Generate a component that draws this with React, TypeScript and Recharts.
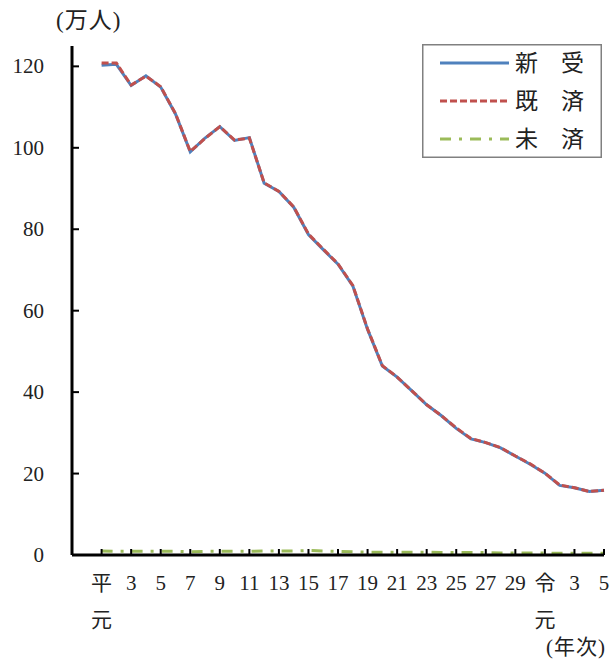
import React from 'react'
import { LineChart, Line, XAxis, YAxis, Legend } from 'recharts'

// 年次 (平成元年〜令和5年)
const years = [
  '平元', '2', '3', '4', '5', '6', '7', '8', '9', '10',
  '11', '12', '13', '14', '15', '16', '17', '18', '19', '20',
  '21', '22', '23', '24', '25', '26', '27', '28', '29', '30',
  '令元', '2', '3', '4', '5',
]

// 単位: 万人
const shinju = [
  120.3, 120.5, 115.3, 117.7, 114.9, 108.3, 99.0, 102.4, 105.2, 101.8,
  102.5, 91.3, 89.3, 85.4, 78.7, 75.0, 71.4, 66.1, 55.4, 46.4,
  43.7, 40.3, 36.9, 34.2, 31.1, 28.5, 27.6, 26.3, 24.3, 22.3,
  20.1, 17.1, 16.5, 15.6, 15.9,
]
const kisai = [
  120.8, 120.8, 115.4, 117.6, 115.0, 108.4, 99.1, 102.3, 105.2, 101.9,
  102.4, 91.4, 89.3, 85.5, 78.8, 75.1, 71.5, 66.2, 55.5, 46.5,
  43.7, 40.3, 36.9, 34.2, 31.2, 28.6, 27.6, 26.4, 24.3, 22.4,
  20.1, 17.2, 16.5, 15.6, 15.9,
]
const misai = [
  1.0, 0.9, 0.9, 0.9, 0.9, 0.9, 0.8, 0.9, 0.9, 0.9,
  0.9, 1.0, 1.0, 1.0, 1.1, 1.0, 0.9, 0.8, 0.7, 0.7,
  0.7, 0.7, 0.7, 0.6, 0.6, 0.6, 0.6, 0.5, 0.5, 0.5,
  0.5, 0.4, 0.4, 0.4, 0.4,
]

const yTicks = [0, 20, 40, 60, 80, 100, 120]

const series = [
  { key: 'shinju', name: '新　受', color: '#4F81BD', dash: undefined },
  { key: 'kisai', name: '既　済', color: '#C0504D', dash: '7 3' },
  { key: 'misai', name: '未　済', color: '#9BBB59', dash: '11 8 3 8' },
]

const data = years.map((year, i) => ({
  year,
  shinju: shinju[i],
  kisai: kisai[i],
  misai: misai[i],
}))

const FONT = "'Liberation Serif', 'Noto Sans CJK JP', serif"

const XTick = (props: any) => {
  const { x, y, payload } = props
  const v = String(payload.value)
  const lines = v.endsWith('元') ? [v[0], v.slice(1)] : [v]
  return (
    <g>
      <line x1={x} x2={x} y1={y} y2={y - 6} stroke="#000" strokeWidth={2} />
      {lines.map((s, i) => (
        <text
          key={i}
          x={x}
          y={y + 35 + i * 37}
          textAnchor="middle"
          fontSize={21}
          fontFamily={FONT}
          fill="#222"
        >
          {s}
        </text>
      ))}
    </g>
  )
}

const YTick = (props: any) => {
  const { x, y, payload } = props
  return (
    <g>
      <line x1={x} x2={x + 7} y1={y} y2={y} stroke="#000" strokeWidth={2} />
      <text x={x - 28} y={y + 7} textAnchor="end" fontSize={21} fontFamily={FONT} fill="#222">
        {payload.value}
      </text>
    </g>
  )
}

const LegendBox = () => (
  <svg width={180} height={114} style={{ display: 'block' }}>
    <rect x={0.75} y={0.75} width={178.5} height={112.5} fill="#fff" stroke="#808080" strokeWidth={1.5} />
    {series.map((s, i) => (
      <g key={s.key}>
        <line
          x1={18}
          x2={87}
          y1={19 + i * 38}
          y2={19 + i * 38}
          stroke={s.color}
          strokeWidth={3}
          strokeDasharray={s.dash}
        />
        <text x={93} y={27 + i * 38} fontSize={23} fontFamily={FONT} fill="#222">
          {s.name}
        </text>
      </g>
    ))}
  </svg>
)

export default function App() {
  return (
    <div style={{ position: 'absolute', left: 0, top: 0, width: 616, height: 662, background: '#fff' }}>
      <LineChart width={616} height={662} data={data} margin={{ top: 46, right: 12, left: 0, bottom: 0 }}>
        <XAxis
          dataKey="year"
          height={107}
          interval={1}
          padding={{ left: 29.6, right: 0 }}
          axisLine={{ stroke: '#000', strokeWidth: 3 }}
          tickLine={false}
          tickSize={0}
          tickMargin={0}
          tick={<XTick />}
          label={{
            content: () => (
              <text x={606} y={654} textAnchor="end" fontSize={21} fontFamily={FONT} fill="#222" letterSpacing={1}>
                (年次)
              </text>
            ),
          }}
        />
        <YAxis
          width={72}
          domain={[0, 125]}
          ticks={yTicks}
          axisLine={{ stroke: '#000', strokeWidth: 3 }}
          tickLine={false}
          tickSize={0}
          tickMargin={0}
          tick={<YTick />}
          label={{
            content: () => (
              <text x={56} y={28} fontSize={23} fontFamily={FONT} fill="#222" letterSpacing={1}>
                (万人)
              </text>
            ),
          }}
        />
        <Legend
          layout="vertical"
          align="center"
          verticalAlign="middle"
          wrapperStyle={{ left: 422, top: 44, width: 180, height: 114 }}
          content={() => <LegendBox />}
        />
        {series.map((s) => (
          <Line
            key={s.key}
            dataKey={s.key}
            name={s.name}
            type="linear"
            stroke={s.color}
            strokeWidth={3}
            strokeDasharray={s.dash}
            dot={false}
            activeDot={false}
            isAnimationActive={false}
          />
        ))}
      </LineChart>
    </div>
  )
}
